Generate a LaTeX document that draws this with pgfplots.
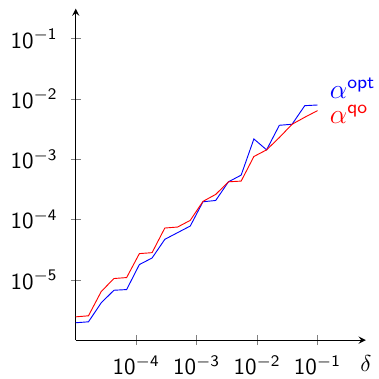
\documentclass[border=0pt]{standalone}
\usepackage{pgfplots}
\pgfplotsset{compat=1.18}
\pgfplotstableread{
x y
1.000e-5 1.94e-6
1.624e-5 2.01e-6
2.637e-5 4.15e-6
4.281e-5 6.71e-6
6.952e-5 6.89e-6
1.129e-4 1.79e-5
1.833e-4 2.30e-5
2.976e-4 4.69e-5
4.833e-4 6.05e-5
7.848e-4 7.80e-5
1.274e-3 1.97e-4
2.069e-3 2.07e-4
3.360e-3 4.22e-4
5.456e-3 5.45e-4
8.859e-3 2.17e-3
1.438e-2 1.43e-3
2.336e-2 3.66e-3
3.793e-2 3.80e-3
6.158e-2 7.74e-3
1.000e-1 7.94e-3
}\opt
\pgfplotstableread{
x y
1.000e-5 2.43e-6
1.624e-5 2.53e-6
2.637e-5 6.38e-6
4.281e-5 1.05e-5
6.952e-5 1.09e-5
1.129e-4 2.72e-5
1.833e-4 2.82e-5
2.976e-4 7.23e-5
4.833e-4 7.50e-5
7.848e-4 9.68e-5
1.274e-3 2.00e-4
2.069e-3 2.61e-4
3.360e-3 4.22e-4
5.456e-3 4.34e-4
8.859e-3 1.11e-3
1.438e-2 1.43e-3
2.336e-2 2.29e-3
3.793e-2 3.80e-3
6.158e-2 4.97e-3
1.000e-1 6.40e-3
}\qo
\newcommand{\tl}[1]{10\textsuperscript{$-$#1}}
\begin{document}
\begin{tikzpicture}
\begin{loglogaxis}[
  name=ax,
  scale only axis, width=126pt, height=144pt,
  axis lines=left, clip=false,
  xmin=1e-5, xmax=0.631, ymin=1e-6, ymax=0.316,
  xtick={1e-4,1e-3,1e-2,1e-1},
  xticklabels={\tl{4},\tl{3},\tl{2},\tl{1}},
  ytick={1e-5,1e-4,1e-3,1e-2,1e-1},
  yticklabels={\tl{5},\tl{4},\tl{3},\tl{2},\tl{1}},
  xminorticks=false, yminorticks=false,
  tick align=center,
  tick label style={font=\sffamily},
  yticklabel style={xshift=-2.2pt},
  xticklabel style={yshift=-1pt},
  xlabel={$\delta$},
  xlabel style={at={(rel axis cs:1,0)}, anchor=north, yshift=-3.2pt},
]
\addplot[blue, no marks] table {\opt}
  node[pos=1, anchor=base west, inner sep=0pt, xshift=5.2pt, yshift=3pt, font=\large] {$\alpha^{\mathsf{opt}}$};
\addplot[red, no marks] table {\qo}
  node[pos=1, anchor=base west, inner sep=0pt, xshift=5.2pt, yshift=-5.6pt, font=\large] {$\alpha^{\mathsf{qo}}$};
\end{loglogaxis}
\pgfresetboundingbox
\path ([shift={(-32.9pt,-16.9pt)}]ax.south west) rectangle ++(164.6pt,164.6pt);
\end{tikzpicture}
\end{document}
